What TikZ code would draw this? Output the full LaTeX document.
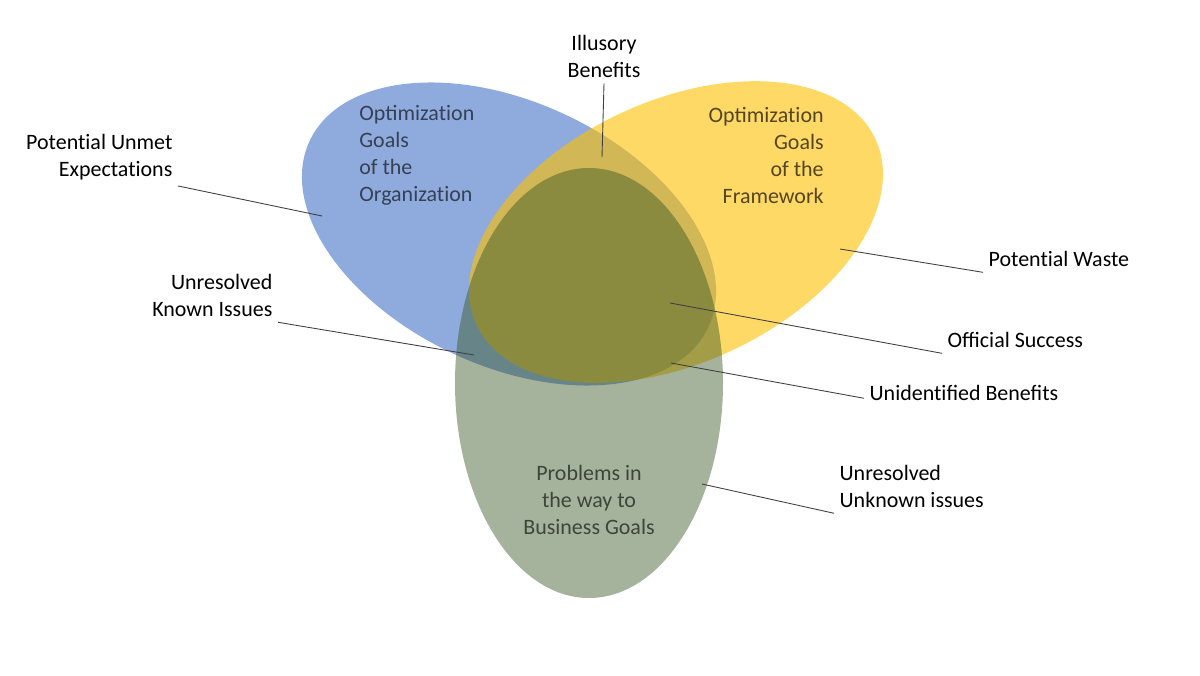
\documentclass[tikz,border=0pt]{standalone}
\usepackage{fontspec}
\setmainfont{Carlito}
\usepackage{tikz}

\definecolor{orgblue}{HTML}{4472C4}
\definecolor{fwyellow}{HTML}{FFC000}
\definecolor{probgreen}{HTML}{375623}
\definecolor{orgtext}{RGB}{54,65,86}
\definecolor{fwtext}{RGB}{84,70,34}
\definecolor{probtext}{RGB}{60,70,58}
\definecolor{leadgray}{RGB}{64,64,64}

\tikzset{
  lbl/.style={font=\fontsize{12.5}{15.3}\selectfont, inner sep=3pt},
  leader/.style={draw=leadgray, line width=0.5pt},
}

\begin{document}
\begin{tikzpicture}
  \useasboundingbox (0,0) rectangle (24,13.5);

  % the three sets
  \fill[orgblue, fill opacity=0.6] (10.18,8.82) circle [x radius=4.4, y radius=2.64, rotate=-25];
  \fill[fwyellow, fill opacity=0.6] (13.52,8.86) circle [x radius=4.4, y radius=2.62, rotate=25];
  \fill[probgreen, fill opacity=0.45] (11.78,5.84) circle [x radius=2.68, y radius=4.3];

  % set titles
  \node[lbl, inner sep=0pt, anchor=west, align=left, text=orgtext] (orgtitle) at (7.18,10.39)
    {Optimizat\kern0pt ion\\Goals\\of the\\Organizat\kern0pt ion};
  \node[lbl, inner sep=0pt, anchor=east, align=right, text=fwtext] (fwtitle) at (16.48,10.39)
    {Optimizat\kern0pt ion\\Goals\\of the\\Framework};
  \node[lbl, inner sep=0pt, align=center, text=probtext] (probtitle) at (11.78,3.5)
    {Problems in\\the way to\\Business Goals};

  % region labels
  \node[lbl, align=center] (illusory) at (12.08,12.37) {Illusory\\Benefits};
  \node[lbl, anchor=east, align=right] (unmet) at (3.56,10.35) {Potent\kern0pt ial Unmet\\Expectat\kern0pt ions};
  \node[lbl, anchor=east, align=right] (known) at (5.56,7.59) {Unresolved\\Known Issues};
  \node[lbl, anchor=west] (waste) at (19.66,8.32) {Potent\kern0pt ial Waste};
  \node[lbl, anchor=west] (success) at (18.84,6.7) {Official Success};
  \node[lbl, anchor=west] (unident) at (17.28,5.64) {Unident\kern0pt ified Benefits};
  \node[lbl, anchor=west, align=left] (unknown) at (16.68,3.77) {Unresolved\\Unknown issues};

  % points inside the regions
  \coordinate (illusoryin) at (12.04,10.36);
  \coordinate (unmetin) at (6.44,9.18);
  \coordinate (knownin) at (9.48,6.4);
  \coordinate (wastein) at (16.8,8.52);
  \coordinate (successin) at (13.4,7.44);
  \coordinate (unidentin) at (13.42,6.24);
  \coordinate (unknownin) at (14.04,3.82);

  % leaders
  \draw[leader] (illusory.south) -- (illusoryin);
  \draw[leader] (unmet.south east) -- (unmetin);
  \draw[leader] (known.south east) -- (knownin);
  \draw[leader] (waste.south west) -- (wastein);
  \draw[leader] (success.south west) -- (successin);
  \draw[leader] ([yshift=-3pt]unident.west) -- (unidentin);
  \draw[leader] (unknown.south west) -- (unknownin);
\end{tikzpicture}
\end{document}
